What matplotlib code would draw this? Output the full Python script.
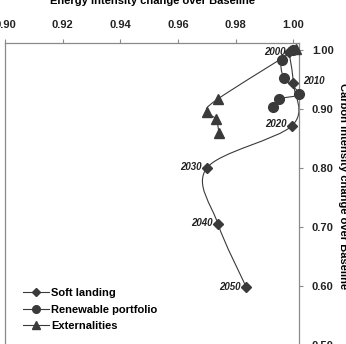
import matplotlib.pyplot as plt
from matplotlib.path import Path
from matplotlib.patches import PathPatch
from matplotlib.lines import Line2D

plt.rcParams['font.family'] = ['Liberation Sans', 'DejaVu Sans']
plt.rcParams['font.weight'] = 'bold'

# scenario trajectories (energy intensity, carbon intensity) relative to baseline
years = [2000, 2010, 2020, 2030, 2040, 2050]
soft_x = [0.9985, 1.0000, 0.9996, 0.9700, 0.9739, 0.9837]
soft_y = [0.997, 0.944, 0.872, 0.800, 0.705, 0.598]
renew_x = [1.0000, 0.9960, 0.9967, 1.0020, 0.9951, 0.9931]
renew_y = [1.000, 0.984, 0.953, 0.926, 0.917, 0.903]
ext_x = [1.0010, 0.9738, 0.9700, 0.9732, 0.9742]
ext_y = [1.001, 0.917, 0.8955, 0.883, 0.860]

x_ticks = [0.90, 0.92, 0.94, 0.96, 0.98, 1.00]
y_ticks = [0.50, 0.60, 0.70, 0.80, 0.90, 1.00]

dark = '#3a3a3a'
axis_col = '#8a8a8a'


def smooth_path(xs, ys):
    # excel style smoothed line: bezier segments with catmull-rom control points
    pts = list(zip(xs, ys))
    n = len(pts)
    verts = [pts[0]]
    codes = [Path.MOVETO]
    for i in range(n - 1):
        p0 = pts[i - 1] if i > 0 else pts[i]
        p1 = pts[i]
        p2 = pts[i + 1]
        p3 = pts[i + 2] if i + 2 < n else pts[i + 1]
        c1 = (p1[0] + (p2[0] - p0[0]) / 6, p1[1] + (p2[1] - p0[1]) / 6)
        c2 = (p2[0] - (p3[0] - p1[0]) / 6, p2[1] - (p3[1] - p1[1]) / 6)
        verts += [c1, c2, p2]
        codes += [Path.CURVE4] * 3
    return Path(verts, codes)


fig = plt.figure(figsize=(3.46, 3.44), dpi=100)
ax = fig.add_axes([0.0145, -0.003, 0.8506, 0.878])

series = [
    (soft_x, soft_y, 'D', 5.5, 'Soft landing'),
    (renew_x, renew_y, 'o', 7, 'Renewable portfolio'),
    (ext_x, ext_y, '^', 7, 'Externalities'),
]
handles = []
for xs, ys, mk, ms, name in series:
    ax.add_patch(PathPatch(smooth_path(xs, ys), fill=False, edgecolor=dark, lw=0.8, zorder=2))
    ax.plot(xs, ys, ls='none', marker=mk, ms=ms, color=dark, zorder=3, clip_on=False)
    handles.append(Line2D([], [], color=dark, lw=0.8, marker=mk, ms=ms - 1.5, label=name))

offsets = {2000: (-3, 0), 2010: (10, 2), 2020: (-5, 2), 2030: (-5, 1), 2040: (-5, 1), 2050: (-6, 0)}
for yr, x, y in zip(years, soft_x, soft_y):
    dx, dy = offsets[yr]
    ax.annotate(str(yr), (x, y), xytext=(dx, dy), textcoords='offset pixels',
                ha='left' if dx > 0 else 'right', va='center', fontsize=7,
                style='italic', weight='bold', color='#222222', annotation_clip=False)

ax.set_xlim(0.90, 1.0021)
ax.set_ylim(0.50, 1.012)
ax.xaxis.tick_top()
ax.xaxis.set_label_position('top')
ax.yaxis.tick_right()
ax.set_xticks(x_ticks)
ax.set_xticklabels([f'{v:.2f}' for v in x_ticks])
ax.set_yticks(y_ticks)
ax.set_yticklabels([f'{v:.2f}' for v in y_ticks])
ax.tick_params(axis='both', length=3, width=0.8, color=axis_col, labelsize=8,
               labelcolor='#222222', pad=6)
ax.set_xlabel('Energy intensity change over Baseline', fontsize=8, weight='bold', labelpad=12)
ax.set_ylabel('Carbon intensity change over Baseline', fontsize=8, weight='bold',
              rotation=-90, ha='center', va='center')
ax.yaxis.set_label_coords(1.148, 0.526)
for side in ['left', 'right', 'top', 'bottom']:
    ax.spines[side].set_color(axis_col)
    ax.spines[side].set_linewidth(0.9)

ax.legend(handles=handles, loc='upper left', bbox_to_anchor=(0.0665, 0.163),
          bbox_transform=fig.transFigure, frameon=False, fontsize=8, borderpad=0,
          borderaxespad=0, handlelength=2.3, handletextpad=0.2, labelspacing=0.6)

fig.savefig('out.png', dpi=100)
